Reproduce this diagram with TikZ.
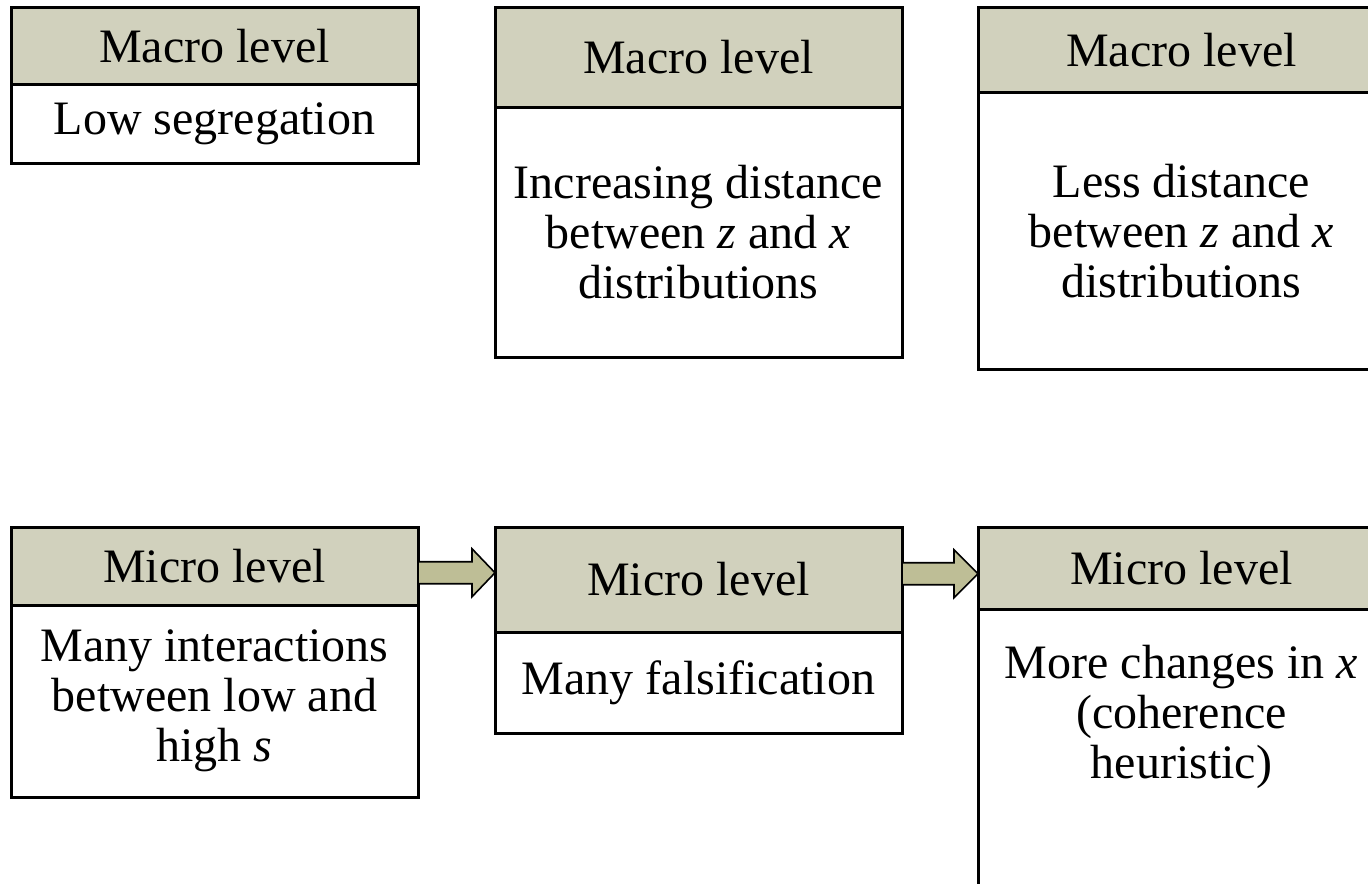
\documentclass[tikz,border=0pt]{standalone}
\usepackage{fontspec}
\setmainfont{Liberation Serif}
\usetikzlibrary{calc}

\definecolor{headfill}{RGB}{209,209,189}
\definecolor{arrowfill}{RGB}{190,190,150}

\tikzset{
    boxtext/.style={font=\fontsize{24}{25}\selectfont, align=center},
    levelhead/.style={draw, line width=1.5pt, fill=headfill, boxtext,
        minimum width=203.5pt, inner sep=0pt, outer sep=0pt, anchor=north west},
    levelbody/.style={draw, line width=1.5pt, fill=white, boxtext,
        minimum width=203.5pt, inner sep=0pt, outer sep=0pt, anchor=north west},
    fatarrow/.style={draw, line width=0.8pt, fill=arrowfill, line join=miter}
}

\begin{document}
\begin{tikzpicture}[x=0.5pt, y=-0.5pt]

    % 0. Page frame (boxes on the right run off the page)
    \useasboundingbox (0,0) rectangle (1368,883);
    \clip (0,0) rectangle (1368,883);

    % 1. Macro level row
    \node[levelbody, minimum height=39pt] (b1) at (11,85) {Low segregation};
    \node[levelhead, minimum height=38.75pt] (h1) at (11,7.5) {Macro level};

    \node[levelbody, minimum height=125pt] (b2) at (495,107)
        {Increasing distance\\between \textit{z} and \textit{x}\\distributions};
    \node[levelhead, minimum height=49.75pt] (h2) at (495,7.5) {Macro level};

    \node[levelbody, minimum height=138pt] (b3) at (978,93)
        {Less distance\\between \textit{z} and \textit{x}\\distributions};
    \node[levelhead, minimum height=42.75pt] (h3) at (978,7.5) {Macro level};

    % 2. Micro level row
    \node[levelbody, minimum height=96pt] (b4) at (11,605)
        {Many interactions\\between low and\\high \textit{s}};
    \node[levelhead, minimum height=39pt] (h4) at (11,527) {Micro level};

    \node[levelbody, minimum height=50.5pt] (b5) at (495,632) {Many falsification};
    \node[levelhead, minimum height=52.5pt] (h5) at (495,527) {Micro level};

    \node[levelbody, minimum height=170pt] (b6) at (978,609) {};
    \node[levelhead, minimum height=41pt] (h6) at (978,527) {Micro level};
    \node[boxtext, inner sep=0pt] (t6) at ($(h6.south)+(0,108)$)
        {More changes in \textit{x}\\(coherence\\heuristic)};

    % 3. Block arrows between the micro level boxes
    \path[fatarrow] let \p1=(h4.east), \p2=(h5.west),
            \p3=($(h4.east)!0.5!(h5.west)$) in
        (\x1,\y3+5.5pt) -- (\x2-11.5pt,\y3+5.5pt) -- (\x2-11.5pt,\y3+12pt)
        -- (\x2,\y3) -- (\x2-11.5pt,\y3-12pt) -- (\x2-11.5pt,\y3-5.5pt)
        -- (\x1,\y3-5.5pt) -- cycle;
    \path[fatarrow] let \p1=(h5.east), \p2=(h6.west),
            \p3=($(h5.east)!0.5!(h6.west)$) in
        (\x1,\y3+5.5pt) -- (\x2-12pt,\y3+5.5pt) -- (\x2-12pt,\y3+12pt)
        -- (\x2,\y3) -- (\x2-12pt,\y3-12pt) -- (\x2-12pt,\y3-5.5pt)
        -- (\x1,\y3-5.5pt) -- cycle;

\end{tikzpicture}
\end{document}
